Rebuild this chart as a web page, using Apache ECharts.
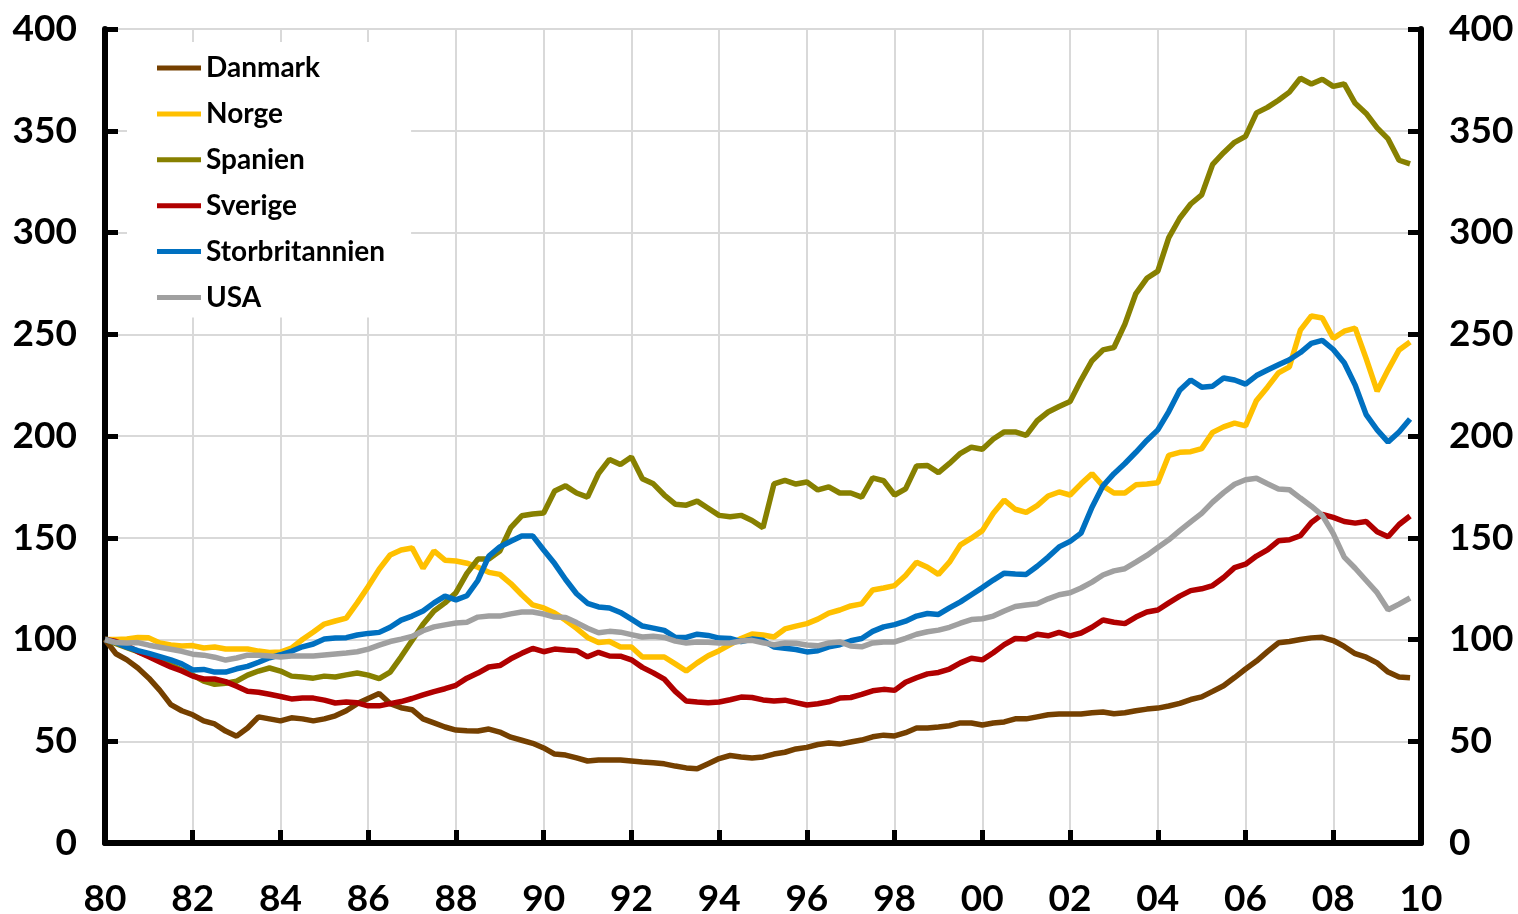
<!DOCTYPE html>
<html>
<head>
<meta charset="utf-8">
<title>Huspriser 1980-2009</title>
<script src="https://cdn.jsdelivr.net/npm/echarts@6/dist/echarts.min.js"></script>
<style>
  html, body { margin: 0; padding: 0; background: #fff; }
  #chart { width: 1518px; height: 914px; }
</style>
</head>
<body>
<div id="chart"></div>
<script>
// kvartaler 1980K1 - 2009K4, indeks 1980K1 = 100
const quarters = Array.from({ length: 120 }, (_, i) => 1980 + i / 4)

const danmark = [
  100, 93, 90, 86, 81, 75, 68, 65, 63, 60,
  58.5, 55, 52.5, 56.5, 62, 61, 60, 61.5, 61, 60,
  61, 62.5, 65, 68.5, 71, 73.5, 68.5, 66.5, 65.5, 61,
  59, 57, 55.5, 55.2, 55, 56, 54.5, 52, 50.5, 49,
  46.7, 43.7, 43.2, 41.8, 40.3, 40.8, 40.8, 40.8, 40.3, 39.8,
  39.4, 38.9, 37.8, 36.9, 36.5, 39, 41.5, 43, 42.3, 41.8,
  42.3, 43.7, 44.6, 46.2, 47, 48.4, 49.1, 48.6, 49.6, 50.6,
  52.2, 53, 52.6, 54.2, 56.5, 56.5, 57, 57.6, 59, 59,
  58, 59, 59.5, 61, 61, 62, 63, 63.4, 63.4, 63.4,
  64, 64.4, 63.5, 64, 65, 65.8, 66.3, 67.3, 68.6, 70.5,
  71.8, 74.5, 77.3, 81.3, 85.5, 89.4, 94, 98.4, 99, 100,
  100.8, 101.1, 99.5, 96.6, 93, 91.3, 88.5, 84, 81.6, 81.2
]

const norge = [
  100, 100, 100.3, 101, 100.8, 98.3, 97.3, 96.8, 97, 95.8,
  96.3, 95.3, 95.3, 95.3, 94.3, 93.6, 93.8, 95.8, 100, 103.7,
  107.6, 109.1, 110.5, 118, 126, 134.5, 141.5, 144, 145, 135,
  143.5, 139, 138.6, 137.5, 135.5, 133, 132, 127.5, 122, 117,
  115.5, 113, 109.5, 105.5, 101, 98.5, 99, 96.3, 96.3, 91.4,
  91.4, 91.4, 88, 84.5, 88.5, 92, 94.5, 97.5, 100.5, 102.7,
  102.2, 101.2, 105.2, 106.6, 107.8, 110, 113, 114.5, 116.5, 117.5,
  124.3, 125.3, 126.5, 131.5, 138, 135.5, 132, 138, 146.5, 149.8,
  153.5, 162, 168.5, 164, 162.5, 165.8, 170.5, 172.5, 171, 176.5,
  181.5, 175.5, 172, 172, 176, 176.4, 177, 190.5, 192, 192.3,
  193.8, 201.8, 204.5, 206.3, 205, 217.5, 224, 231, 234, 252,
  259, 258, 248, 251.5, 253, 238, 222, 232.5, 242.3, 246.2
]

const spanien = [
  100, 98, 96, 94, 92, 90, 87.5, 85, 82.5, 79.5,
  78, 78.5, 79.5, 82.5, 84.5, 86, 84.5, 82, 81.6, 81,
  82, 81.6, 82.6, 83.5, 82.5, 80.8, 84, 91.5, 99.5, 107.5,
  114, 118, 123, 132.5, 139.5, 139.5, 143.5, 155, 160.8, 161.7,
  162.2, 173, 175.5, 172, 170, 181.5, 188.5, 186, 189.7, 179,
  176.5, 171, 166.5, 166, 168, 164.5, 161, 160.3, 161, 158.5,
  155, 176.5, 178.2, 176.4, 177.4, 173.5, 175, 172, 172, 170,
  179.4, 178, 171, 174, 185.3, 185.5, 182, 186.5, 191.5, 194.5,
  193.5, 198.5, 202, 202, 200.3, 207.5, 211.8, 214.5, 217, 227.5,
  237, 242.3, 243.5, 255, 270, 277.5, 281, 297.5, 307, 314,
  318.5, 333.5, 339.2, 344.3, 347.2, 358.8, 361.5, 365, 369, 375.8,
  373, 375.3, 371.8, 373, 363.5, 358.5, 351.4, 346, 335.5, 333.7
]

const sverige = [
  100, 99, 97, 94, 91.5, 89, 86.5, 84.5, 82, 80.6,
  80.6, 79.3, 77, 74.6, 74.1, 73.1, 72, 70.8, 71.3, 71.2,
  70.2, 68.8, 69.3, 68.9, 67.4, 67.4, 68.5, 69.5, 71, 72.8,
  74.4, 75.8, 77.5, 81, 83.5, 86.5, 87.2, 90.5, 93.2, 95.6,
  94, 95.3, 94.8, 94.5, 91.5, 93.7, 91.9, 91.8, 90, 86.3,
  83.6, 80.5, 74.5, 69.8, 69.3, 68.9, 69.3, 70.4, 71.7, 71.5,
  70.3, 69.8, 70.2, 69, 67.8, 68.4, 69.4, 71.2, 71.5, 73,
  74.8, 75.5, 75, 79, 81.2, 83.1, 83.8, 85.5, 88.5, 90.8,
  90, 93.5, 97.5, 100.5, 100.2, 102.6, 101.8, 103.5, 101.8, 103.2,
  106, 109.6, 108.5, 107.8, 111, 113.5, 114.5, 118, 121.3, 124,
  124.9, 126.5, 130.5, 135.3, 137, 141, 144, 148.5, 149, 151,
  157.5, 161.5, 160, 158, 157.2, 158, 153, 150.5, 156.5, 160.7
]

const storbritannien = [
  100, 98.5, 96.2, 94.5, 93.2, 91.6, 90, 88, 85, 85.3,
  84, 84, 85.6, 86.8, 88.8, 91, 92.5, 94.2, 96.4, 97.8,
  100.2, 100.7, 100.9, 102.2, 103, 103.5, 106, 109.5, 111.5, 114,
  118, 121.3, 119.5, 121.5, 129, 141, 145.5, 148.3, 150.9, 150.9,
  144, 137.3, 129.5, 122.5, 117.8, 116, 115.5, 113.3, 110, 106.6,
  105.6, 104.5, 101.1, 101, 102.6, 102, 100.7, 100.5, 99, 100.2,
  99.6, 96.3, 95.7, 95.1, 93.9, 94.5, 96.4, 97.4, 99.4, 100.5,
  104, 106.2, 107.3, 109, 111.5, 112.8, 112.3, 115.5, 118.5, 122,
  125.5, 129.2, 132.6, 132.2, 132, 136, 140.5, 145.5, 148.2, 152.3,
  165, 175.5, 181.5, 186.5, 192, 197.8, 203, 212, 222.5, 227.5,
  224, 224.5, 228.5, 227.5, 225.5, 229.7, 232.4, 235, 237.5, 241,
  245.5, 247, 242.5, 236, 225, 210.5, 203, 197, 202, 208.4
]

const usa = [
  100, 98.5, 98.3, 98.5, 97.2, 96.2, 95.2, 94.2, 92.8, 92.3,
  91.3, 89.9, 90.9, 92.3, 92.3, 91.9, 91.4, 91.9, 91.9, 91.9,
  92.4, 92.9, 93.4, 94, 95.3, 97.2, 99, 100.2, 101.5, 104.3,
  106.2, 107.2, 108.1, 108.5, 111, 111.5, 111.5, 112.6, 113.5, 113.5,
  112.5, 111, 110.8, 108.3, 105.5, 103.3, 104, 103.6, 102.4, 101.2,
  101.6, 101, 99.2, 98.3, 98.8, 98.7, 98.3, 98.3, 99.3, 99.6,
  98.4, 97.4, 98.3, 98.2, 97.3, 96.9, 98.3, 98.8, 96.8, 96.4,
  98.3, 98.8, 98.8, 100.6, 102.6, 103.8, 104.6, 106, 108, 109.8,
  110.2, 111.5, 114, 116.2, 117, 117.6, 120, 122, 123, 125.3,
  128.2, 131.7, 133.7, 134.8, 138, 141.3, 145.2, 149, 153.5, 157.8,
  162, 167.5, 172.2, 176.3, 178.5, 179.2, 176.5, 174, 173.6, 169.5,
  165.5, 161, 152, 140.5, 135, 129, 123, 114.6, 117.4, 120.4
]

const seriesNames = ['Danmark', 'Norge', 'Spanien', 'Sverige', 'Storbritannien', 'USA']
const seriesColors = ['#754000', '#ffc000', '#878000', '#b00000', '#0070c0', '#a0a0a0']
const seriesValues = [danmark, norge, spanien, sverige, storbritannien, usa]

const FONT = 'Lato, "Open Sans", sans-serif'

const chart = echarts.init(document.getElementById('chart'))

function yAxisBase(position) {
  return {
    type: 'value',
    position: position,
    min: 0,
    max: 400,
    interval: 50,
    axisLine: { show: true, lineStyle: { color: '#000', width: 6 } },
    axisTick: { show: true, inside: true, length: 13, lineStyle: { color: '#000', width: 5 } },
    axisLabel: {
      margin: 28,
      color: '#000',
      fontFamily: FONT,
      fontWeight: 'bold',
      fontSize: 37
    },
    splitLine: {
      show: position === 'left',
      lineStyle: { color: '#d9d9d9', width: 2 }
    }
  }
}

chart.setOption({
  animation: false,
  backgroundColor: '#fff',
  grid: {
    left: 105,
    right: 97,
    top: 29,
    bottom: 71,
    containLabel: false,
    outerBoundsMode: 'none'
  },
  legend: {
    orient: 'vertical',
    left: 127,
    top: 42,
    padding: [11, 26, 5, 30],
    backgroundColor: '#fff',
    icon: 'rect',
    itemWidth: 44,
    itemHeight: 5,
    itemGap: 15.9,
    data: seriesNames,
    textStyle: {
      color: '#000',
      fontFamily: FONT,
      fontWeight: 'bold',
      fontSize: 28,
      lineHeight: 30
    }
  },
  xAxis: {
    type: 'value',
    min: 1980,
    max: 2010,
    interval: 2,
    axisLine: { show: true, onZero: false, lineStyle: { color: '#000', width: 6 } },
    axisTick: { show: true, inside: true, length: 13, lineStyle: { color: '#000', width: 5 } },
    axisLabel: {
      margin: 38,
      color: '#000',
      fontFamily: FONT,
      fontWeight: 'bold',
      fontSize: 37,
      formatter: (v) => String(v).slice(2)
    },
    splitLine: { show: true, lineStyle: { color: '#d9d9d9', width: 2 } }
  },
  yAxis: [yAxisBase('left'), yAxisBase('right')],
  series: seriesNames.map((name, k) => ({
    name: name,
    type: 'line',
    showSymbol: false,
    symbol: 'none',
    data: quarters.map((q, i) => [q, seriesValues[k][i]]),
    color: seriesColors[k],
    lineStyle: { width: 5.5, color: seriesColors[k] }
  }))
})
</script>
</body>
</html>
